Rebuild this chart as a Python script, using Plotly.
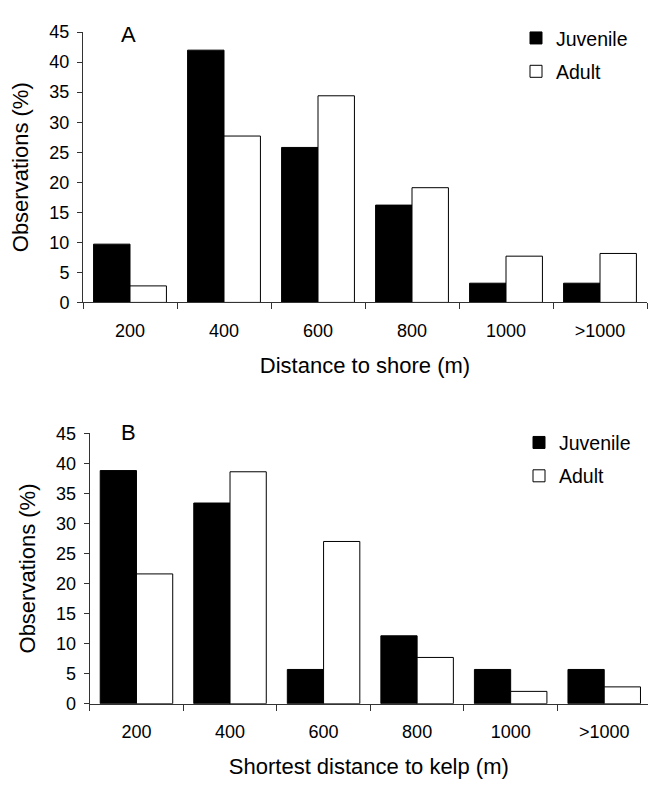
import plotly.graph_objects as go

categories = ["200", "400", "600", "800", "1000", ">1000"]
juvenile_A = [9.7, 42.0, 25.8, 16.2, 3.2, 3.2]
adult_A = [2.75, 27.7, 34.4, 19.1, 7.7, 8.15]
juvenile_B = [38.8, 33.4, 5.7, 11.3, 5.7, 5.7]
adult_B = [21.6, 38.6, 27.0, 7.7, 2.05, 2.8]
y_ticks = [0, 5, 10, 15, 20, 25, 30, 35, 40, 45]

W, H = 648, 791
FONT = "Arial, 'Liberation Sans', sans-serif"
line_col = "#333333"

fig = go.Figure()
fig.add_trace(go.Bar(x=categories, y=juvenile_A, name="Juvenile", xaxis="x", yaxis="y",
                     marker=dict(color="black", line=dict(color="black", width=1)),
                     legend="legend", legendgroup="jA"))
fig.add_trace(go.Bar(x=categories, y=adult_A, name="Adult", xaxis="x", yaxis="y",
                     marker=dict(color="white", line=dict(color="black", width=1)),
                     legend="legend", legendgroup="aA"))
fig.add_trace(go.Bar(x=categories, y=juvenile_B, name="Juvenile", xaxis="x2", yaxis="y2",
                     marker=dict(color="black", line=dict(color="black", width=1)),
                     legend="legend2", legendgroup="jB"))
fig.add_trace(go.Bar(x=categories, y=adult_B, name="Adult", xaxis="x2", yaxis="y2",
                     marker=dict(color="white", line=dict(color="black", width=1)),
                     legend="legend2", legendgroup="aB"))

def xax(domain, anchor, title, rng):
    return dict(domain=domain, anchor=anchor, type="category", range=rng,
                showline=True, linecolor=line_col, linewidth=1,
                ticks="outside", tickson="boundaries", ticklen=6, tickcolor=line_col,
                tickfont=dict(size=18, color="black", family=FONT),
                ticklabelstandoff=12,
                title=dict(text=title, font=dict(size=22, color="black", family=FONT), standoff=17),
                showgrid=False, zeroline=False, fixedrange=True)

def yax(domain, anchor):
    return dict(domain=domain, anchor=anchor, range=[0, 45], tickvals=y_ticks,
                showline=True, linecolor=line_col, linewidth=1,
                ticks="outside", ticklen=5, tickcolor=line_col,
                tickfont=dict(size=18, color="black", family=FONT),
                ticklabelstandoff=4,
                title=dict(text="Observations (%)", font=dict(size=22, color="black", family=FONT), standoff=14),
                showgrid=False, zeroline=False, fixedrange=True)

legend_common = dict(font=dict(size=19.5, color="black", family=FONT), bgcolor="rgba(0,0,0,0)",
                     xanchor="left", yanchor="top", tracegroupgap=5, itemwidth=30)

fig.update_layout(
    width=W, height=H, margin=dict(l=0, r=0, t=0, b=0),
    paper_bgcolor="white", plot_bgcolor="white",
    barmode="group", bargap=0.225, bargroupgap=0,
    font=dict(family=FONT, color="black"),
    xaxis=xax([83 / W, 647 / W], "y", "Distance to shore (m)", [-0.5, 5.5]),
    yaxis=yax([1 - 300 / H, 1 - 22.7 / H], "x"),
    xaxis2=xax([89.7 / W, 1.0], "y2", "Shortest distance to kelp (m)", [-0.5, 5.468]),
    yaxis2=yax([1 - 711.7 / H, 1 - 434.3 / H], "x2"),
    legend=dict(x=516 / W, y=1 - 9 / H, **legend_common),
    legend2=dict(x=519 / W, y=1 - 424 / H, **legend_common),
    annotations=[
        dict(text="A", x=128 / W, y=1 - 25 / H, xref="paper", yref="paper", showarrow=False,
             font=dict(size=22, color="black", family=FONT), xanchor="center", yanchor="middle"),
        dict(text="B", x=128 / W, y=1 - 433 / H, xref="paper", yref="paper", showarrow=False,
             font=dict(size=22, color="black", family=FONT), xanchor="center", yanchor="middle"),
    ],
    showlegend=True,
)

fig.write_html("out.html", config={"displayModeBar": False},
               post_script="document.body.style.margin='0';document.body.style.overflow='hidden';")
